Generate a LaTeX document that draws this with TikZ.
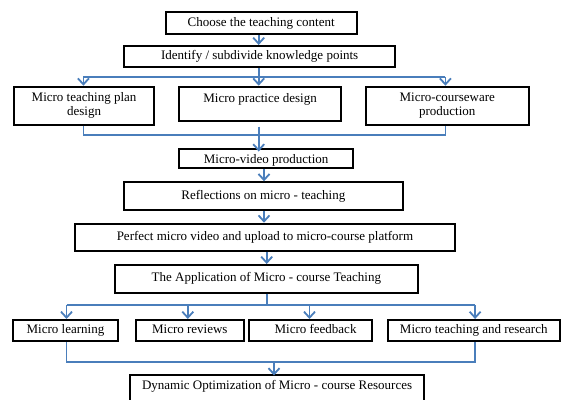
\documentclass[tikz,border=0pt]{standalone}
\usepackage{fontspec}
\setmainfont{Liberation Serif}
\usetikzlibrary{arrows.meta}
\definecolor{lnblue}{HTML}{4A7EBB}
\begin{document}
\begin{tikzpicture}[x=1pt,y=-1pt,
  boxbase/.style={draw=black, line width=2pt, inner sep=0pt, align=center,
    font=\fontsize{13}{14}\selectfont},
  box/.style={boxbase, text height=9pt, text depth=3pt},
  conn/.style={draw=lnblue, line width=1.8pt},
  arr/.style={conn, -{Straight Barb[length=6pt,width=11pt,line width=1.8pt]}}]
\useasboundingbox (0,0) rectangle (561,399);

% boxes
\node[box, minimum width=191.1pt, minimum height=22.6pt] (b1) at (261.15,23) {Choose the teaching content};
\node[box, minimum width=271.2pt, minimum height=20.7pt] (b2) at (259.7,56.35) {Identify / subdivide knowledge points};
\node[boxbase, minimum width=139.5pt, minimum height=38pt] (b3a) at (84.05,105.7) {Micro teaching plan\\design};
\node[box, minimum width=161.8pt, minimum height=34.3pt, text depth=11pt] (b3b) at (260.1,103.85) {Micro practice design};
\node[boxbase, minimum width=163.1pt, minimum height=38pt] (b3c) at (447.25,105.7) {Micro-courseware\\production};
\node[box, minimum width=173.9pt, minimum height=19pt, text height=13pt, text depth=3pt] (b4) at (266.15,158.5) {Micro-video production};
\node[box, minimum width=279.1pt, minimum height=27.7pt] (b5) at (263.35,196.15) {Reflections on micro - teaching};
\node[box, minimum width=380.3pt, minimum height=27pt] (b6) at (264.95,237.2) {Perfect micro video and upload to micro-course platform};
\node[box, minimum width=302.3pt, minimum height=27.7pt] (b7) at (266.35,278.85) {The Application of Micro - course Teaching};
\node[box, minimum width=104.5pt, minimum height=21pt] (b8a) at (65.45,330.5) {Micro learning};
\node[box, minimum width=108.4pt, minimum height=21pt] (b8b) at (189.8,330.5) {Micro reviews};
\node[box, minimum width=123.7pt, minimum height=21pt] (b8c) at (310.55,330.5) {\hspace{10pt}Micro feedback};
\node[box, minimum width=172.5pt, minimum height=21pt] (b8d) at (473.75,330.5) {Micro teaching and research};
\node[box, minimum width=293.8pt, minimum height=28pt, text depth=7.6pt] (b9) at (277.1,389) {Dynamic Optimization of Micro - course Resources};

% column coordinates
\coordinate (c1) at (258.7,0);
\coordinate (c2) at (264,0);
\coordinate (c3) at (266.7,0);
\coordinate (s1) at (258.7,76.7);
\coordinate (s1l) at (83.4,76.7);
\coordinate (s1r) at (445.4,76.7);
\coordinate (m1l) at (83.4,135);
\coordinate (m1r) at (445.4,135);
\coordinate (m1t) at (258.7,126.7);
\coordinate (s2) at (266.7,305);
\coordinate (s2a) at (66.5,305);
\coordinate (s2b) at (187.8,305);
\coordinate (s2c) at (309.5,305);
\coordinate (s2d) at (475.1,305);
\coordinate (m2l) at (66.5,361.7);
\coordinate (m2r) at (475.1,361.7);
\coordinate (m2t) at (274,361.7);

% connectors
\draw[arr] (b1.south -| c1) -- (b2.north -| c1);
\draw[conn] (b2.south -| c1) -- (s1);
\draw[conn] (s1l) -- (s1r);
\draw[arr] (s1l) -- (b3a.north -| s1l);
\draw[arr] (s1) -- (b3b.north -| s1);
\draw[arr] (s1r) -- (b3c.north -| s1r);
\draw[conn] (b3a.south -| m1l) -- (m1l) -- (m1r) -- (b3c.south -| m1r);
\draw[arr, shorten >=-3.5pt] (m1t) -- (b4.north -| m1t);
\draw[arr] (b4.south -| c2) -- (b5.north -| c2);
\draw[arr] (b5.south -| c2) -- (b6.north -| c2);
\draw[arr] (b6.south -| c3) -- (b7.north -| c3);
\draw[conn] (b7.south -| s2) -- (s2);
\draw[conn] (s2a) -- (s2d);
\draw[arr] (s2a) -- (b8a.north -| s2a);
\draw[arr] (s2b) -- (b8b.north -| s2b);
\draw[arr] (s2c) -- (b8c.north -| s2c);
\draw[arr] (s2d) -- (b8d.north -| s2d);
\draw[conn] (b8a.south -| m2l) -- (m2l) -- (m2r) -- (b8d.south -| m2r);
\draw[arr, shorten >=-1.5pt] (m2t) -- (b9.north -| m2t);
\end{tikzpicture}
\end{document}
